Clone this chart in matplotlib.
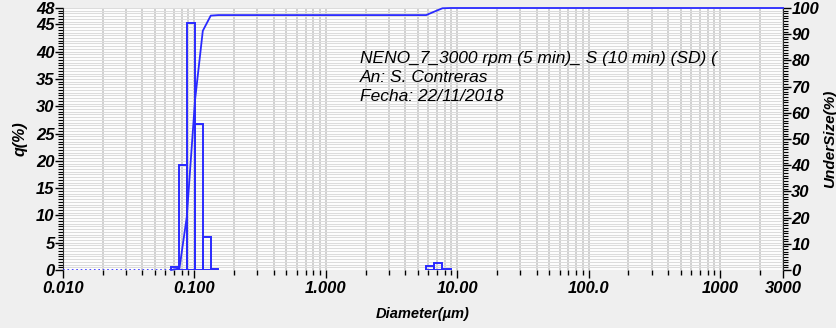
import numpy as np
import matplotlib
matplotlib.use("Agg")
import matplotlib.pyplot as plt
from matplotlib.ticker import LogLocator, MultipleLocator, NullFormatter

plt.rcParams["font.family"] = ["Liberation Sans", "DejaVu Sans"]

# frequency histogram q(%) -- main peak and the small coarse peak
edges_fine = [0.0664, 0.0768, 0.0874, 0.101, 0.1157, 0.133, 0.152]
q_fine = [0.6, 19.2, 45.3, 26.7, 6.0, 0.2]
edges_coarse = [5.79, 6.66, 7.7, 8.93]
q_coarse = [0.75, 1.2, 0.2]

# cumulative undersize curve
diam_cum = [0.0664, 0.0768, 0.0874, 0.101, 0.1157, 0.133, 0.152, 5.79, 6.66, 7.7, 8.93, 3000]
undersize = [0.0, 0.6, 20.3, 64.9, 91.3, 97.1, 97.3, 97.3, 98.6, 99.9, 100.0, 100.0]

# zero baseline shown dotted below the first bin
zero_x = [0.010, 0.0664]
zero_y = [0.0, 0.0]

xticks = [0.01, 0.1, 1, 10, 100, 1000, 3000]
xlabels = ["0.010", "0.100", "1.000", "10.00", "100.0", "1000", "3000"]
yticks_left = [0, 5, 10, 15, 20, 25, 30, 35, 40, 45, 48]
yticks_right = list(range(0, 101, 10))

info = ["NENO_7_3000 rpm (5 min)_ S (10 min) (SD) (",
        "An: S. Contreras",
        "Fecha: 22/11/2018"]

BLUE = "#2a2aff"
tick_font = dict(fontsize=12, fontweight="bold", fontstyle="italic")

fig = plt.figure(figsize=(8.37, 3.28), dpi=100, facecolor="#efefef")
ax = fig.add_axes([0.0753, 0.1768, 0.8602, 0.7988])
ax.set_facecolor("white")
ax.set_xscale("log")
ax.set_xlim(0.01, 3000)
ax.set_ylim(0, 48)

# grid
ax.xaxis.set_minor_locator(LogLocator(base=10, subs=np.arange(2, 10)))
ax.xaxis.set_minor_formatter(NullFormatter())
ax.yaxis.set_minor_locator(MultipleLocator(0.5))
ax.grid(True, which="both", axis="x", color="#c8c8c8", lw=1.2)
ax.grid(True, which="both", axis="y", color="#dcdcdc", lw=0.8)
ax.set_axisbelow(True)

# histogram outlines
for edges, q in [(edges_fine, q_fine), (edges_coarse, q_coarse)]:
    e = np.array(edges)
    ax.bar(e[:-1], q, width=np.diff(e), align="edge", fill=False,
           edgecolor=BLUE, linewidth=1.4, zorder=3)
ax.plot(zero_x, zero_y, ls=":", color=BLUE, lw=1.2, zorder=3)

ax.set_xticks(xticks)
ax.set_xticklabels(xlabels, **tick_font)
ax.set_yticks(yticks_left)
ax.set_yticklabels([str(v) for v in yticks_left], **tick_font)
ax.tick_params(axis="x", which="major", length=6, width=1, color="black", pad=2)
ax.tick_params(axis="x", which="minor", length=3.5, width=1, color="black")
ax.tick_params(axis="y", which="major", length=6, width=1, pad=0)
ax.tick_params(axis="y", which="minor", length=3.5, width=0.8)
for s in ["top", "right", "bottom"]:
    ax.spines[s].set_visible(False)
ax.spines["left"].set_color("#333333")
ax.set_ylabel("q(%)", fontsize=11.5, fontweight="bold", fontstyle="italic", labelpad=6)
ax.set_xlabel("Diameter(µm)", fontsize=10.5, fontweight="bold", fontstyle="italic", labelpad=8)

# cumulative curve on right axis
ax2 = ax.twinx()
ax2.set_ylim(0, 100)
ax2.plot(diam_cum, undersize, color=BLUE, lw=1.3, zorder=4, clip_on=False)
ax2.set_yticks(yticks_right)
ax2.set_yticklabels([str(v) for v in yticks_right], **tick_font)
ax2.yaxis.set_minor_locator(MultipleLocator(1))
ax2.tick_params(axis="y", which="major", length=6, width=1, pad=0)
ax2.tick_params(axis="y", which="minor", length=3.5, width=0.8)
for s in ["top", "left", "bottom"]:
    ax2.spines[s].set_visible(False)
ax2.spines["right"].set_color("#333333")
ax2.set_ylabel("UnderSize(%)", fontsize=11, fontweight="bold", fontstyle="italic", labelpad=3)

for i, line in enumerate(info):
    ax.text(0.4125, 0.809 - i * 0.0725, line, transform=ax.transAxes,
            fontsize=12.5, fontstyle="italic", va="center", ha="left",
            clip_on=True, zorder=5)

fig.savefig("out.png", dpi=100, facecolor=fig.get_facecolor())
